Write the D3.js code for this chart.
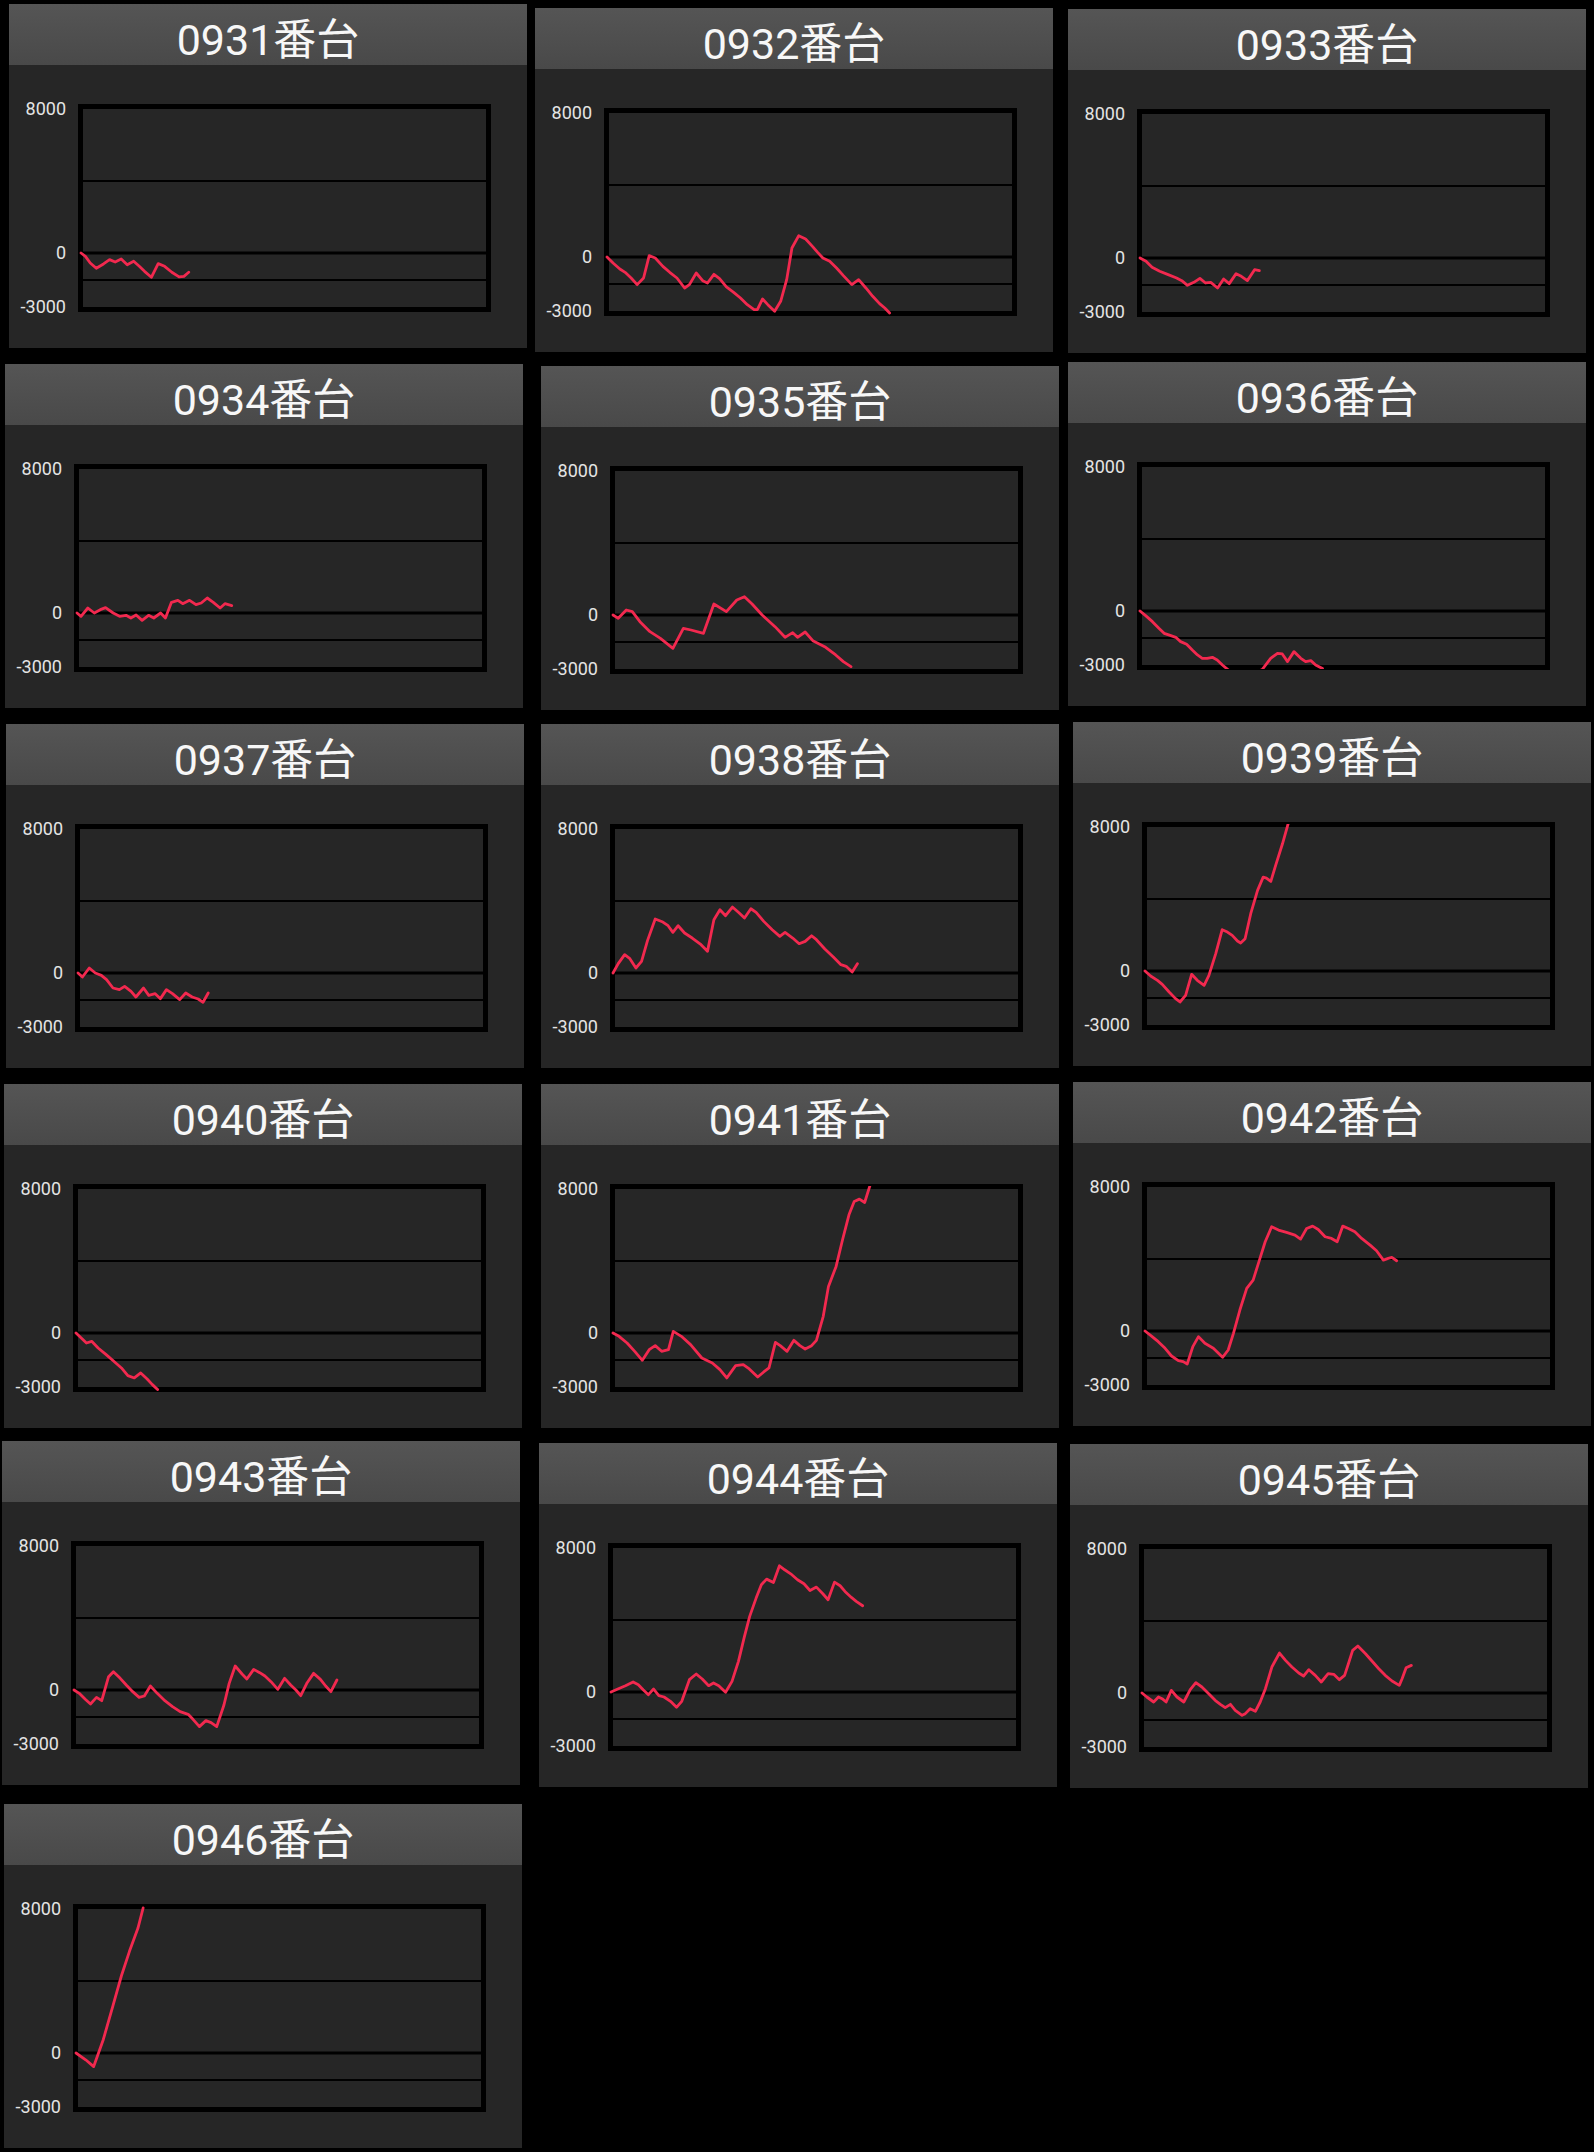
<!DOCTYPE html>
<html>
<head>
<meta charset="utf-8">
<script src="https://cdn.jsdelivr.net/npm/d3@7"></script>
<style>
  body { margin: 0; background: #000; }
  svg { display: block; }
</style>
</head>
<body>
<script>

    // machine numbers, one panel each
    var machines = ["0931", "0932", "0933", "0934", "0935", "0936", "0937", "0938",
                    "0939", "0940", "0941", "0942", "0943", "0944", "0945", "0946"];

    // y axis labels and inner grid lines
    var yTicks = [8000, 0, -3000];
    var yGrid = [4000, 0, -1500];

    // coin difference curves, [step, coins] (step 0..100 across the plot)
    var s0931 = [[0,0],[1.1,-185],[2.3,-555],[3.8,-850],[5.6,-610],[7.1,-370],[8.5,-500],[10,-330],
                 [11.5,-650],[13.1,-460],[14.5,-740],[15.8,-1020],[17.5,-1350],[19.2,-590],[20.8,-740],
                 [22.6,-1070],[24.4,-1330],[25.6,-1295],[26.8,-1070]];
    var s0932 = [[0,0],[1.5,-333],[3.2,-666],[4.5,-851],[6,-1166],[7.5,-1536],[9.1,-1166],[10.5,74],
                 [12,-55],[13.9,-518],[15.6,-851],[17.4,-1166],[19.3,-1721],[20.5,-1536],[22.2,-888],
                 [23.8,-1314],[25,-1443],[26.6,-962],[28,-1203],[29.7,-1665],[31.5,-1961],[33.2,-2276],
                 [34.9,-2646],[36.6,-2923],[37.4,-2923],[38.7,-2331],[40,-2646],[41.7,-3016],[43.2,-2461],
                 [44.7,-1258],[46,499],[47.7,1184],[49.4,999],[51.1,592],[52.4,259],[53.7,-55],[55.4,-240],
                 [57.1,-611],[58.8,-1036],[60.9,-1536],[62.6,-1258],[64.4,-1721],[66.1,-2183],[67.8,-2590],
                 [69.1,-2831],[70.3,-3108]];
    var s0933 = [[0,0],[1.5,-185],[3,-518],[4.9,-740],[7,-925],[9.1,-1110],[10.4,-1258],[11.8,-1517],
                 [13.4,-1350],[14.9,-1129],[16.3,-1388],[17.6,-1350],[19.3,-1665],[20.8,-1166],[22.2,-1425],
                 [23.9,-870],[25.2,-1018],[26.7,-1258],[28.5,-648],[29.7,-703]];
    var s0934 = [[0,0],[1,-185],[2.7,278],[4.3,0],[5.8,185],[7.1,296],[9,0],[10.6,-185],[12.2,-130],
                 [13.4,-278],[14.7,-111],[16.2,-407],[17.8,-130],[19.1,-278],[20.8,0],[22,-278],[23.5,592],
                 [25.1,703],[26.3,518],[28,703],[29.6,462],[30.9,555],[32.4,833],[33.9,592],[35.6,278],
                 [36.8,518],[38.5,407]];
    var s0935 = [[0,0],[1.3,-185],[3.3,278],[4.8,185],[6.7,-370],[9.2,-925],[11.8,-1295],[14.9,-1850],
                 [17.5,-740],[19.4,-833],[22.5,-1018],[25.1,611],[28.2,185],[30.8,833],[32.7,1018],
                 [34.6,611],[37.1,0],[40.3,-648],[42.8,-1240],[44.7,-981],[45.9,-1240],[47.8,-944],
                 [49.7,-1425],[52.9,-1795],[55.4,-2220],[57.3,-2590],[59.2,-2868]];
    var s0936 = [[0,0],[1.4,-259],[3.1,-592],[4.7,-962],[6,-1240],[7.5,-1351],[8.9,-1462],[10.1,-1702],
                 [11.6,-1850],[13,-2165],[14.3,-2442],[15.5,-2628],[16.7,-2628],[18,-2572],[19.2,-2720],
                 [20.5,-2998],[22.1,-3300],[26.3,-3700],[30.4,-3250],[32.5,-2628],[34.2,-2350],
                 [35.4,-2387],[36.7,-2812],[38.3,-2257],[40,-2628],[41.2,-2812],[42.5,-2757],[43.7,-2998],
                 [45.4,-3200]];
    var s0937 = [[0,0],[1.1,-222],[2.8,278],[4.3,0],[5.8,-130],[7.1,-370],[8.7,-833],[10.3,-925],
                 [11.6,-740],[13.2,-1018],[14.4,-1332],[16.3,-833],[17.6,-1240],[19.2,-1147],[20.5,-1425],
                 [22,-925],[23.5,-1147],[25.3,-1480],[26.8,-1110],[28.4,-1332],[29.9,-1443],[31.1,-1628],
                 [32.4,-1110]];
    var s0938 = [[0,0],[1.3,518],[2.9,1018],[4.2,796],[5.7,278],[7.1,648],[8.6,1813],[10.5,2997],
                 [12.4,2831],[13.7,2627],[14.9,2257],[16.2,2627],[17.8,2220],[19.7,1943],[21.9,1573],
                 [23.5,1203],[25.1,2960],[26.6,3515],[28,3182],[29.7,3663],[31.4,3330],[32.7,3052],
                 [34.3,3570],[35.6,3367],[37.5,2868],[39.6,2405],[41.5,2035],[42.8,2257],[44.7,1943],
                 [46.3,1628],[47.8,1758],[49.4,2072],[50.6,1850],[52.7,1332],[54.8,888],[56.7,462],
                 [58,370],[59.5,55],[60.8,518]];
    var s0939 = [[0,0],[1.4,-278],[3.1,-518],[4.3,-740],[6,-1166],[7.6,-1536],[8.7,-1721],[10.1,-1350],
                 [11.6,-185],[13,-518],[14.7,-796],[15.9,-240],[17.6,962],[19.2,2294],[20.5,2165],
                 [21.7,1980],[23,1665],[23.8,1554],[24.9,1795],[26.3,3182],[28,4477],[29.4,5217],
                 [30.2,5162],[31.3,4976],[32.5,5865],[34.2,7067],[35.6,8177]];
    var s0940 = [[0,0],[1.3,-278],[2.6,-555],[3.9,-462],[5.5,-833],[7.5,-1203],[9.4,-1573],[11.3,-1943],
                 [12.9,-2368],[14.5,-2498],[16.1,-2220],[17.7,-2553],[19,-2868],[20.3,-3145]];
    var s0941 = [[0,0],[1.5,-185],[3.5,-555],[5.4,-1018],[7.3,-1517],[9,-925],[10.5,-703],[12.1,-1018],
                 [13.8,-925],[15,92],[17,-185],[19.3,-648],[22.1,-1388],[24.7,-1665],[26.6,-2035],
                 [28.3,-2498],[30.5,-1813],[32.4,-1758],[33.9,-1998],[36,-2442],[37.5,-2165],[38.8,-1943],
                 [40.4,-518],[41.6,-703],[43.3,-1018],[45,-407],[46.5,-703],[47.8,-888],[49.4,-703],
                 [50.6,-407],[52.3,925],[53.6,2590],[55.5,3700],[57.1,5180],[58.7,6567],[60,7307],
                 [61.3,7437],[62.6,7252],[63.9,8177]];
    var s0942 = [[0,0],[1.7,-296],[3.3,-592],[5,-962],[6.6,-1388],[8.3,-1647],[9.5,-1702],[10.5,-1832],
                 [11.9,-870],[13.3,-314],[14.9,-685],[17,-962],[19.3,-1462],[20.7,-1055],[22,-130],
                 [23.6,1165],[25.3,2368],[26.9,2830],[28.6,4033],[29.9,4958],[31.5,5790],[33.2,5605],
                 [35.2,5476],[37.3,5328],[38.7,5106],[40.2,5698],[41.7,5828],[43.1,5643],[44.8,5236],
                 [46.4,5143],[47.8,4958],[49.2,5828],[50.6,5698],[52.2,5513],[53.9,5143],[56,4773],
                 [57.6,4458],[59.3,3940],[60.5,4033],[61.4,4088],[62.6,3903]];
    var s0943 = [[0,0],[1.3,-185],[2.8,-518],[4.1,-777],[5.6,-407],[6.9,-592],[8.6,740],[9.8,1018],
                 [11.5,648],[13,278],[14.6,-92],[16.2,-407],[17.5,-333],[19,222],[20.7,-185],[22.6,-592],
                 [24.5,-925],[26.4,-1203],[28.4,-1350],[29.6,-1628],[31.2,-2035],[32.8,-1702],[34.1,-1813],
                 [35.5,-2035],[37.3,-833],[38.6,370],[40.1,1332],[41.8,888],[43,611],[44.7,1147],[46.2,962],
                 [47.5,777],[49,462],[50.7,37],[52.4,648],[53.9,278],[55.2,0],[56.4,-314],[58,407],
                 [59.6,925],[61.3,592],[62.6,222],[63.9,-92],[65.4,555]];
    var s0944 = [[0,0],[1.7,166],[3.6,351],[5.5,555],[6.8,407],[8,130],[9.3,-148],[10.6,166],[11.9,-203],
                 [13.2,-277],[14.8,-518],[16.3,-851],[17.6,-518],[19.5,684],[21.2,999],[22.7,721],
                 [24.3,351],[25.5,499],[26.8,351],[28.5,-18],[30.1,592],[31.7,1702],[33.2,3090],
                 [34.5,4200],[36.1,5217],[37.4,5957],[38.7,6271],[40.4,6086],[41.9,7011],[43.2,6790],
                 [44.7,6567],[46.4,6234],[48,6012],[49.5,5642],[51.1,5827],[52.7,5457],[54,5124],
                 [55.6,6105],[57,5901],[58.2,5587],[59.8,5254],[61,5032],[62.6,4791]];
    var s0945 = [[0,0],[1.2,-222],[2.9,-500],[4.1,-222],[5,-314],[6,-500],[7.3,148],[8.7,-222],
                 [10.4,-500],[12,185],[13.4,574],[14.9,333],[16.6,-37],[18.2,-407],[19.5,-629],
                 [20.7,-814],[22,-629],[23.2,-962],[24.9,-1240],[25.7,-1147],[26.9,-870],[28.2,-1018],
                 [29.4,-500],[30.7,240],[32.3,1443],[34.2,2220],[35.7,1813],[37.3,1443],[39,1110],
                 [40.2,944],[41.5,1295],[43.1,981],[44.6,611],[46.3,1073],[47.7,1036],[49.1,740],
                 [50.4,981],[51.4,1665],[52.4,2368],[53.7,2609],[55.6,2183],[57.2,1776],[58.9,1350],
                 [60.5,981],[62.2,666],[64,425],[64.7,795],[65.7,1406],[67,1536]];
    var s0946 = [[0,0],[2.4,-377],[4.4,-753],[6.8,753],[9.2,2635],[11.3,4292],[13.3,5648],[15.4,6928],
                 [16.7,8057]];

    var series = [s0931, s0932, s0933, s0934, s0935, s0936, s0937, s0938,
                  s0939, s0940, s0941, s0942, s0943, s0944, s0945, s0946];

    // where each screenshot panel sits (the collage is a little uneven)
    var panelPos = [[9,4],[535,8],[1068,9],[5,364],[541,366],[1068,362],[6,724],[541,724],
                    [1073,722],[4,1084],[541,1084],[1073,1082],[2,1441],[539,1443],[1070,1444],[4,1804]];

    var width = 1594, height = 2152;
    var pw = 518, ph = 344, headH = 61;

    var svg = d3.select("body")
        .append("svg")
        .attr("width", width)
        .attr("height", height);

    svg.append("rect")
        .attr("width", width)
        .attr("height", height)
        .attr("fill", "#000");

    var defs = svg.append("defs");

    var grad = defs.append("linearGradient")
        .attr("id", "head")
        .attr("x1", 0).attr("y1", 0).attr("x2", 0).attr("y2", 1);
    grad.append("stop").attr("offset", "0%").attr("stop-color", "#555555");
    grad.append("stop").attr("offset", "100%").attr("stop-color", "#494949");

    // scales are shared, every panel uses the same plot box
    var x = d3.scaleLinear().domain([0, 100]).range([72, 474]);
    var y = d3.scaleLinear().domain([-3000, 8000]).range([303, 105]);

    // line may run over the border a little, not past it
    defs.append("clipPath")
        .attr("id", "plotclip")
        .append("rect")
        .attr("x", 69).attr("y", 102)
        .attr("width", 413).attr("height", 205);

    var line = d3.line()
        .x(function (d) { return x(d[0]); })
        .y(function (d) { return y(d[1]); });

    var font = "Roboto, 'Noto Sans CJK JP', sans-serif";

    machines.forEach(function (m, i) {

        var g = svg.append("g")
            .attr("transform", "translate(" + panelPos[i][0] + "," + panelPos[i][1] + ")");

        // panel body and title bar
        g.append("rect")
            .attr("width", pw).attr("height", ph)
            .attr("fill", "#262626");

        g.append("rect")
            .attr("width", pw).attr("height", headH)
            .attr("fill", "url(#head)");

        g.append("text")
            .attr("x", pw / 2)
            .attr("y", 51)
            .attr("text-anchor", "middle")
            .attr("font-family", font)
            .attr("font-size", 43)
            .attr("fill", "#f7f7f7")
            .text(m + "番台");

        // grid lines (zero line a bit heavier)
        g.selectAll(".grid")
            .data(yGrid)
            .enter()
            .append("line")
            .attr("x1", 74).attr("x2", 477)
            .attr("y1", function (d) { return y(d); })
            .attr("y2", function (d) { return y(d); })
            .attr("stroke", "#000")
            .attr("stroke-width", function (d) { return d == 0 ? 3 : 2; });

        // thick black frame
        g.append("rect")
            .attr("x", 71.5).attr("y", 102.5)
            .attr("width", 408).attr("height", 203)
            .attr("fill", "none")
            .attr("stroke", "#000")
            .attr("stroke-width", 5);

        // y labels, plain hyphen for the minus as on the device
        var yAxisGroup = g.append("g")
            .attr("transform", "translate(69,0)");

        var yAxis = d3.axisLeft(y)
            .tickValues(yTicks)
            .tickSize(0)
            .tickPadding(12)
            .tickFormat(function (d) { return String(d); });

        yAxis(yAxisGroup);

        yAxisGroup.select(".domain").remove();
        yAxisGroup.selectAll("text")
            .attr("font-family", font)
            .attr("font-size", 18)
            .attr("fill", "#e4e4e4");

        // difference curve
        g.append("path")
            .datum(series[i])
            .attr("d", line)
            .attr("clip-path", "url(#plotclip)")
            .attr("fill", "none")
            .attr("stroke", "#f2294f")
            .attr("stroke-width", 2.8)
            .attr("stroke-linejoin", "round")
            .attr("stroke-linecap", "round");
    });

</script>
</body>
</html>
